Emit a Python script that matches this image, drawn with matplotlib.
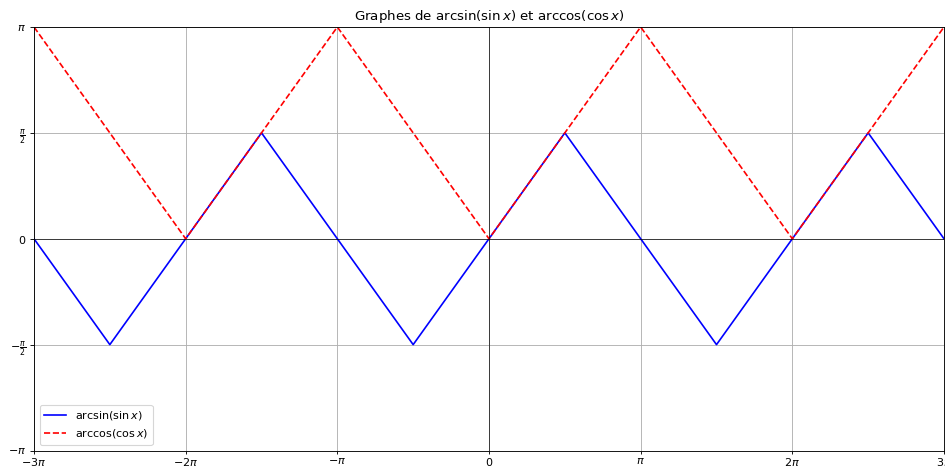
import numpy as np
import matplotlib
matplotlib.use("Agg")
import matplotlib.pyplot as plt

# Vertices (in units of pi)
asin_x = [-3, -2.5, -1.5, -0.5, 0.5, 1.5, 2.5, 3]
asin_y = [0, -0.5, 0.5, -0.5, 0.5, -0.5, 0.5, 0]
acos_x = [-3, -2, -1, 0, 1, 2, 3]
acos_y = [1, 0, 1, 0, 1, 0, 1]

xtick_vals = [-3, -2, -1, 0, 1, 2, 3]
xtick_labels = [r'$-3\pi$', r'$-2\pi$', r'$-\pi$', r'$0$', r'$\pi$', r'$2\pi$', r'$3\pi$']
ytick_vals = [-1, -0.5, 0, 0.5, 1]
ytick_labels = [r'$-\pi$', r'$-\frac{\pi}{2}$', r'$0$', r'$\frac{\pi}{2}$', r'$\pi$']

DPI = 80
fig = plt.figure(figsize=(945/DPI, 468/DPI), dpi=DPI)
ax = fig.add_axes([34/945, 17.5/468, (944-34)/945, (450.5-27)/468])

pi = np.pi
ax.plot(np.array(asin_x)*pi, np.array(asin_y)*pi, color='blue', label=r'$\arcsin(\sin x)$')
ax.plot(np.array(acos_x)*pi, np.array(acos_y)*pi, color='red', linestyle='--', label=r'$\arccos(\cos x)$')
ax.axhline(0, color='black', linewidth=0.6)
ax.axvline(0, color='black', linewidth=0.6)
ax.set_xlim(-3*pi, 3*pi)
ax.set_ylim(-pi, pi)
ax.set_xticks(np.array(xtick_vals)*pi)
ax.set_xticklabels(xtick_labels)
ax.set_yticks(np.array(ytick_vals)*pi)
ax.set_yticklabels(ytick_labels)
ax.tick_params(axis='x', length=2.6, pad=2.2)
ax.grid(True)
ax.legend(loc='lower left')
ax.set_title(r'Graphes de $\arcsin(\sin x)$ et $\arccos(\cos x)$')
fig.savefig('out.png', dpi=DPI)
